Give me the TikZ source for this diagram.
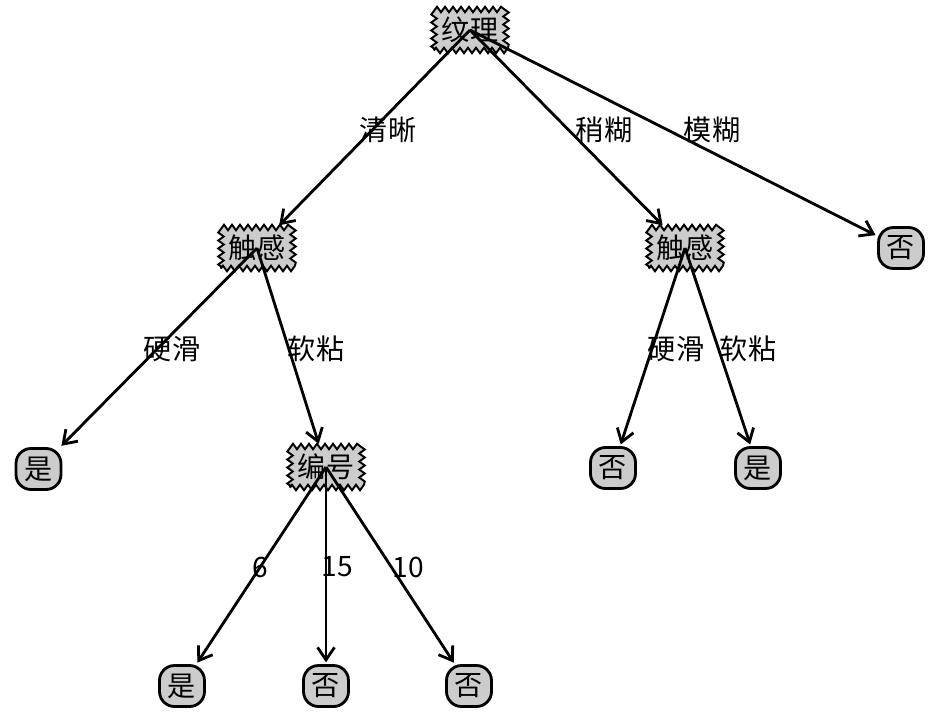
\documentclass[tikz,border=0pt]{standalone}
\usepackage{fontspec}
\setmainfont{Noto Sans CJK SC}
\usetikzlibrary{arrows.meta,decorations.pathmorphing}

\begin{document}
\begin{tikzpicture}[
    >={Straight Barb[length=2.5mm,width=3.4mm]},
    every node/.style={font=\fontsize{16}{19}\selectfont},
    decision/.style={draw,line width=1.1pt,fill=black!20,inner sep=0pt,
        minimum width=1.44cm,minimum height=0.82cm,
        decorate,decoration={zigzag,segment length=1.6mm,amplitude=0.55mm}},
    leaf/.style={draw,line width=1.6pt,fill=black!20,rounded corners=3mm,
        inner sep=0pt,minimum width=0.9cm,minimum height=0.82cm},
    branch/.style={->,line width=1.6pt,shorten >=1pt}
]
\useasboundingbox (0,0) rectangle (18.86,-14.32);

\node[decision] (texture) at (9.40,-0.60) {纹理};
\node[decision] (feelL) at (5.14,-4.96) {触感};
\node[decision] (feelR) at (13.70,-4.96) {触感};
\node[leaf] (noA) at (18.02,-4.96) {否};

\node[leaf] (yesA) at (0.77,-9.38) {是};
\node[decision] (number) at (6.52,-9.34) {编号};
\node[leaf] (noB) at (12.26,-9.36) {否};
\node[leaf] (yesB) at (15.16,-9.36) {是};

\node[leaf] (yesC) at (3.64,-13.72) {是};
\node[leaf] (noC) at (6.52,-13.72) {否};
\node[leaf] (noD) at (9.38,-13.72) {否};

\draw[branch] (texture.center) -- (feelL);
\draw[branch] (texture.center) -- (feelR);
\draw[branch] (texture.center) -- (noA);
\draw[branch] (feelL.center) -- (yesA);
\draw[branch] (feelL.center) -- (number);
\draw[branch] (feelR.center) -- (noB);
\draw[branch] (feelR.center) -- (yesB);
\draw[branch] (number.center) -- (yesC);
\draw[branch] (number.center) -- (noC);
\draw[branch] (number.center) -- (noD);

\node (clear) at (7.76,-2.60) {清晰};
\node (slight) at (12.08,-2.60) {稍糊};
\node (blur) at (14.24,-2.60) {模糊};
\node (hardL) at (3.44,-6.98) {硬滑};
\node (softL) at (6.32,-6.98) {软粘};
\node (hardR) at (13.52,-6.98) {硬滑};
\node (softR) at (14.96,-6.98) {软粘};
\node (six) at (5.20,-11.34) {6};
\node (fifteen) at (6.74,-11.34) {15};
\node (ten) at (8.16,-11.34) {10};
\end{tikzpicture}
\end{document}
